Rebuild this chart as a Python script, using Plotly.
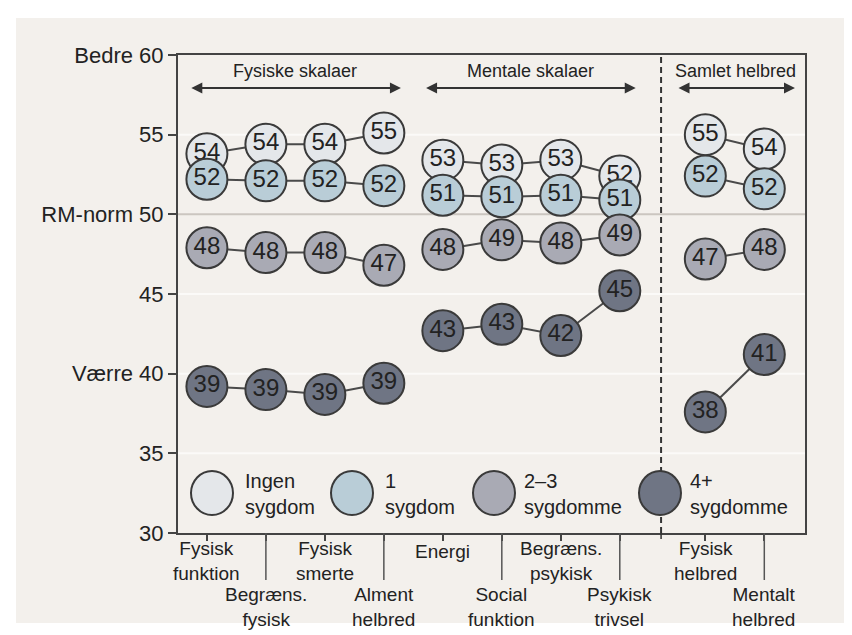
import plotly.graph_objects as go

# ---------------- data ----------------
categories = ["Fysisk\nfunktion", "Begræns.\nfysisk", "Fysisk\nsmerte", "Alment\nhelbred",
              "Energi", "Social\nfunktion", "Begræns.\npsykisk", "Psykisk\ntrivsel",
              "Fysisk\nhelbred", "Mentalt\nhelbred"]

ingen_values = [53.8, 54.4, 54.4, 55.1, 53.4, 53.1, 53.4, 52.4, 55.0, 54.1]
ingen_labels = [54, 54, 54, 55, 53, 53, 53, 52, 55, 54]
en_values = [52.2, 52.1, 52.1, 51.8, 51.2, 51.1, 51.2, 50.9, 52.4, 51.6]
en_labels = [52, 52, 52, 52, 51, 51, 51, 51, 52, 52]
tretre_values = [47.9, 47.6, 47.6, 46.8, 47.8, 48.4, 48.2, 48.7, 47.2, 47.8]
tretre_labels = [48, 48, 48, 47, 48, 49, 48, 49, 47, 48]
fire_values = [39.2, 39.0, 38.7, 39.4, 42.7, 43.1, 42.4, 45.2, 37.6, 41.2]
fire_labels = [39, 39, 39, 39, 43, 43, 42, 45, 38, 41]

series_names = ["Ingen\nsygdom", "1\nsygdom", "2–3\nsygdomme", "4+\nsygdomme"]

y_tickvals = [30, 35, 40, 45, 50, 55, 60]
y_ticktext = ["30", "35", "Værre 40", "45", "RM-norm 50", "55", "Bedre 60"]

group_titles = ["Fysiske skalaer", "Mentale skalaer", "Samlet helbred"]
groups = [(0, 4), (4, 8), (8, 10)]

# ---------------- layout constants ----------------
FONT = "Liberation Sans, Arial, Helvetica, sans-serif"
BG = "#f3f0ec"
TXT = "#222222"
OUT = "#3a3a3a"
fills = ["#e4e7ea", "#b9cdd7", "#a9aab4", "#6f7584"]
GROUP_GAP = 0.45
W, H = 852, 635
ML, MR, MT, MB = 170, 55, 47, 110
PW, PH = W - ML - MR, H - MT - MB

def px_x(px):
    return (px - ML) / PW

def px_y(py):
    return (H - MB - py) / PH

xpos = [i + (GROUP_GAP if i >= 8 else 0) for i in range(len(categories))]

fig = go.Figure()

all_series = [(ingen_values, ingen_labels), (en_values, en_labels),
              (tretre_values, tretre_labels), (fire_values, fire_labels)]

for (vals, labs), fill, name in zip(all_series, fills, series_names):
    xs, ys, ts = [], [], []
    for a, b in groups:
        xs += xpos[a:b] + [None]
        ys += vals[a:b] + [None]
        ts += [str(v) for v in labs[a:b]] + [""]
    fig.add_trace(go.Scatter(
        x=xs, y=ys, text=ts, mode="lines+markers+text",
        name=name.replace("\n", " "), showlegend=False,
        connectgaps=False,
        line=dict(color="#4a4a4a", width=2),
        marker=dict(size=41, color=fill, line=dict(color=OUT, width=2)),
        textposition="middle center",
        textfont=dict(family=FONT, size=24, color=TXT),
        hoverinfo="skip",
    ))

shapes = []
# outer beige panel
shapes.append(dict(type="rect", xref="paper", yref="paper",
                   x0=px_x(8), x1=px_x(838), y0=px_y(615), y1=px_y(10),
                   fillcolor=BG, line=dict(width=0), layer="below"))
# faint grid lines
for v in [35, 40, 45, 55]:
    shapes.append(dict(type="line", xref="paper", yref="y", x0=0, x1=1, y0=v, y1=v,
                       line=dict(color="#fbfaf8", width=2), layer="below"))
shapes.append(dict(type="line", xref="paper", yref="y", x0=0, x1=1, y0=50, y1=50,
                   line=dict(color="#cbc6c0", width=2), layer="below"))
# dashed separator
DASH_X = 7.7
shapes.append(dict(type="line", xref="x", yref="paper", x0=DASH_X, x1=DASH_X, y0=0, y1=1,
                   line=dict(color="#333333", width=2, dash="6px,4px")))
shapes.append(dict(type="line", xref="x", yref="paper", x0=DASH_X, x1=DASH_X, y0=0, y1=px_y(531),
                   line=dict(color="#333333", width=1.5)))
# long separator ticks for the lower label row
for i in range(1, len(categories), 2):
    shapes.append(dict(type="line", xref="x", yref="paper", x0=xpos[i], x1=xpos[i],
                       y0=0, y1=px_y(572), line=dict(color="#555555", width=1.5)))

annotations = []
# x labels (two rows, alternating)
for i, cat in enumerate(categories):
    n_lines = len(cat.split("\n"))
    if i % 2 == 0:
        cy = 543 if n_lines == 1 else 553
    else:
        cy = 599
    annotations.append(dict(x=xpos[i], y=px_y(cy), xref="x", yref="paper",
                            text=cat.replace("\n", "<br>"), showarrow=False,
                            xanchor="center", yanchor="middle", align="center",
                            borderpad=0,
                            font=dict(family=FONT, size=19, color=TXT)))

# group headers and arrows
arrow_spans = [(-0.29, 3.29), (3.69, 7.27), (7.97, 9.97)]
for title, (a, b) in zip(group_titles, arrow_spans):
    annotations.append(dict(x=(a + b) / 2, y=px_y(63), xref="x", yref="paper", text=title,
                            showarrow=False, xanchor="center", yanchor="middle",
                            font=dict(family=FONT, size=18, color=TXT)))
    annotations.append(dict(x=b, y=px_y(80), ax=a, ay=0, xref="x", yref="paper",
                            axref="x", ayref="pixel", text="", showarrow=True,
                            arrowside="end+start", arrowhead=2, startarrowhead=2,
                            arrowsize=1.1, startarrowsize=1.1, arrowwidth=2,
                            arrowcolor="#333333", standoff=0, startstandoff=0))

# custom legend
legend_circles = [204, 344, 486, 652]
legend_text_x = [236, 376, 515, 681]
for cx, tx, fill, name in zip(legend_circles, legend_text_x, fills, series_names):
    shapes.append(dict(type="circle", xref="paper", yref="paper",
                       x0=px_x(cx - 21), x1=px_x(cx + 21), y0=px_y(507), y1=px_y(463),
                       fillcolor=fill, line=dict(color=OUT, width=2)))
    annotations.append(dict(x=px_x(tx), y=px_y(486), xref="paper", yref="paper",
                            text=name.replace("\n", "<br>"), showarrow=False,
                            xanchor="left", yanchor="middle", align="left", borderpad=0,
                            font=dict(family=FONT, size=20, color=TXT)))

fig.update_layout(
    width=W, height=H,
    margin=dict(l=ML, r=MR, t=MT, b=MB, pad=0),
    paper_bgcolor="white", plot_bgcolor=BG,
    shapes=shapes, annotations=annotations,
    showlegend=False,
    font=dict(family=FONT, color=TXT),
)
fig.update_xaxes(range=[-0.49, 10.14], tickvals=xpos, showticklabels=False,
                 ticks="outside", ticklen=6, tickwidth=1.5, tickcolor="#444444",
                 showline=True, linecolor="#444444", linewidth=2, mirror=True,
                 showgrid=False, zeroline=False, fixedrange=True)
fig.update_yaxes(range=[30, 60], tickvals=y_tickvals, ticktext=y_ticktext,
                 ticks="outside", ticklen=8, tickwidth=1.5, tickcolor="#444444",
                 tickfont=dict(family=FONT, size=22, color=TXT),
                 showline=True, linecolor="#444444", linewidth=2, mirror=True,
                 showgrid=False, zeroline=False, fixedrange=True)

fig.write_html("out.html")
